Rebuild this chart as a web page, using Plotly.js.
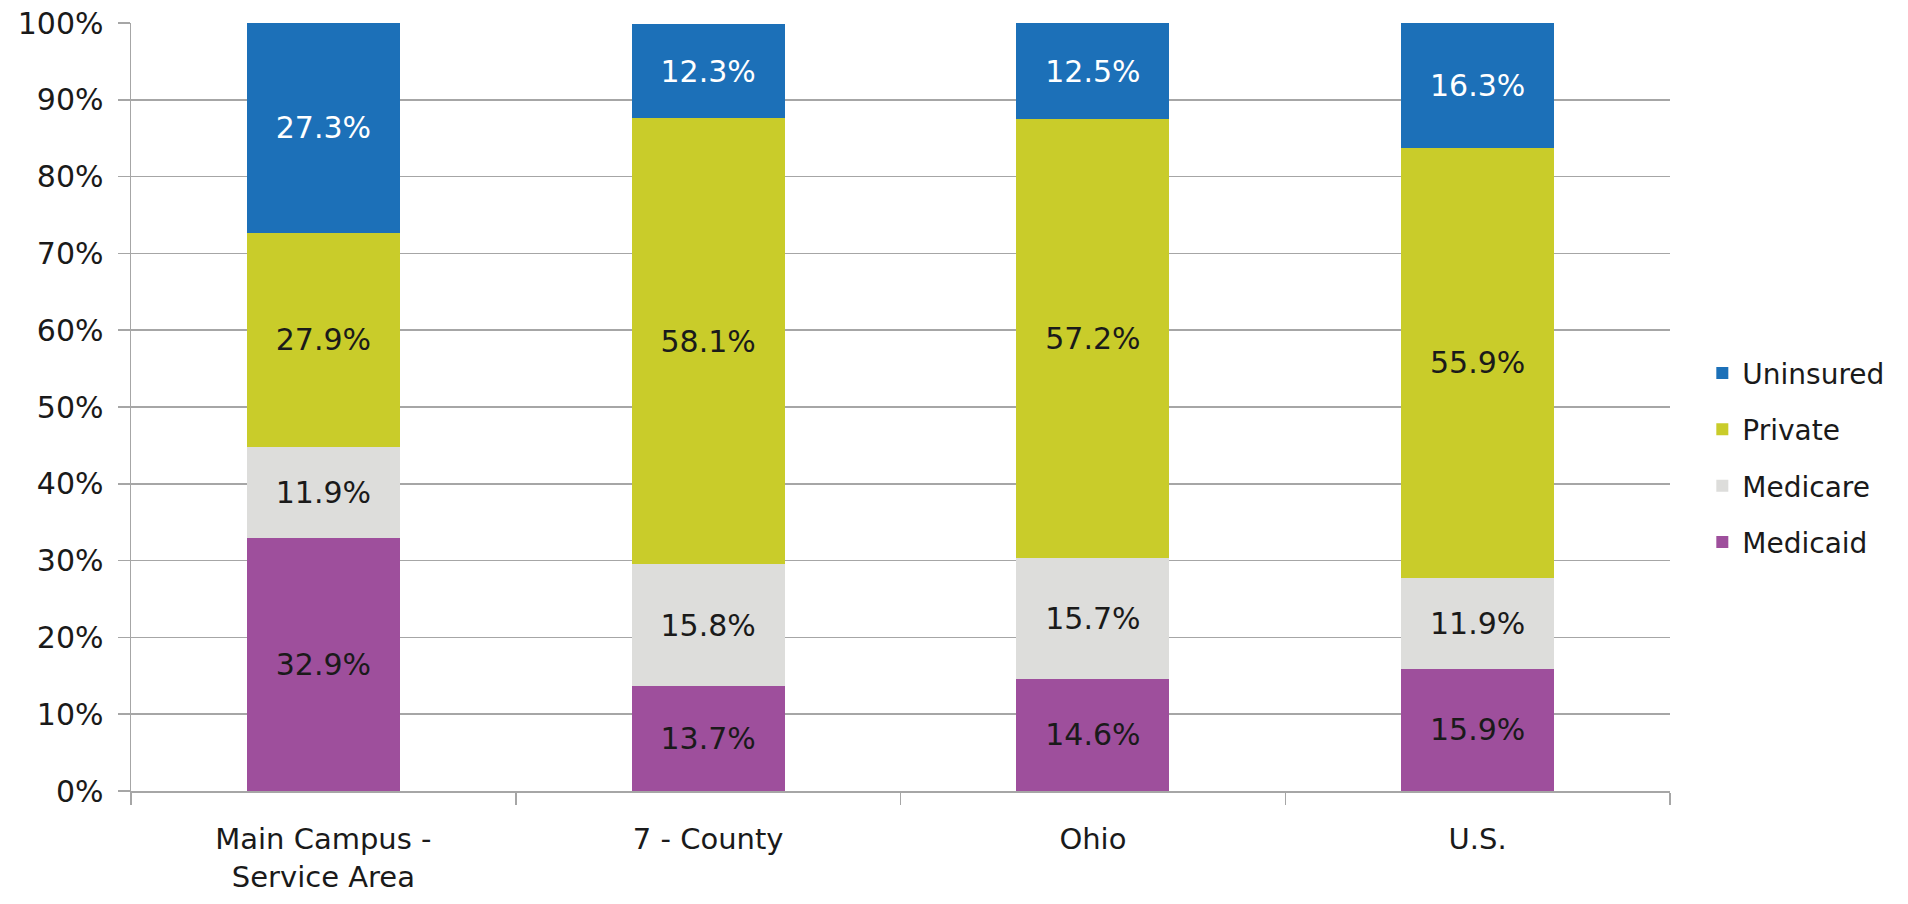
<!DOCTYPE html>
<html>
<head>
<meta charset="utf-8">
<script src="https://cdn.plot.ly/plotly-3.0.1.min.js"></script>
<style>
html,body{margin:0;padding:0;background:#fff;}
#chart{width:1908px;height:904px;}
</style>
</head>
<body>
<div id="chart"></div>
<script>
const categories = ["Main Campus -<br>Service Area", "7 - County", "Ohio", "U.S."];
const medicaid = [32.9, 13.7, 14.6, 15.9];
const medicare = [11.9, 15.8, 15.7, 11.9];
const privateIns = [27.9, 58.1, 57.2, 55.9];
const uninsured = [27.3, 12.3, 12.5, 16.3];
const yTickVals = [0, 10, 20, 30, 40, 50, 60, 70, 80, 90, 100];

const FONT = "DejaVu Sans, sans-serif";
const TXT = "#1a1a1a";

function mk(name, vals, color, textColor, rank) {
  return {
    type: "bar",
    name: name,
    x: categories,
    y: vals,
    marker: {color: color, line: {width: 0}},
    text: vals.map(v => v.toFixed(1) + "%"),
    textposition: "inside",
    insidetextanchor: "middle",
    textangle: 0,
    constraintext: "none",
    insidetextfont: {family: FONT, size: 30, color: textColor},
    hoverinfo: "skip",
    legendgroup: "g" + rank,
    legendrank: rank
  };
}

const data = [
  mk("Medicaid", medicaid, "#9E4F9C", TXT, 4),
  mk("Medicare", medicare, "#DDDDDB", TXT, 3),
  mk("Private", privateIns, "#C9CC2A", TXT, 2),
  mk("Uninsured", uninsured, "#1C70B8", "#ffffff", 1)
];

const layout = {
  width: 1908,
  height: 904,
  margin: {l: 131, r: 238, t: 23, b: 113, pad: 0},
  paper_bgcolor: "#ffffff",
  plot_bgcolor: "#ffffff",
  barmode: "stack",
  bargap: 0.602,
  font: {family: FONT, size: 28, color: TXT},
  showlegend: true,
  legend: {
    x: 1.021, xanchor: "left",
    y: 0.434, yanchor: "middle",
    traceorder: "grouped",
    tracegroupgap: 17,
    font: {family: FONT, size: 28, color: TXT},
    bgcolor: "rgba(0,0,0,0)"
  },
  xaxis: {
    type: "category",
    showgrid: false,
    showline: true,
    linecolor: "#a6a6a6",
    linewidth: 1.5,
    ticks: "outside",
    tickson: "boundaries",
    ticklen: 12,
    tickcolor: "#a6a6a6",
    tickwidth: 1.5,
    ticklabelstandoff: 22,
    tickfont: {family: FONT, size: 29, color: TXT},
    fixedrange: true
  },
  yaxis: {
    range: [0, 100],
    tickvals: yTickVals,
    ticktext: yTickVals.map(v => v + "%"),
    showgrid: true,
    gridcolor: "#a6a6a6",
    gridwidth: 1.5,
    zeroline: false,
    showline: true,
    linecolor: "#a6a6a6",
    linewidth: 1.5,
    ticks: "outside",
    ticklen: 12,
    tickcolor: "#a6a6a6",
    tickwidth: 1.5,
    ticklabelstandoff: 8,
    tickfont: {family: FONT, size: 30, color: TXT},
    fixedrange: true
  },
  hovermode: false
};

Plotly.newPlot("chart", data, layout, {displayModeBar: false, staticPlot: true});
</script>
</body>
</html>
